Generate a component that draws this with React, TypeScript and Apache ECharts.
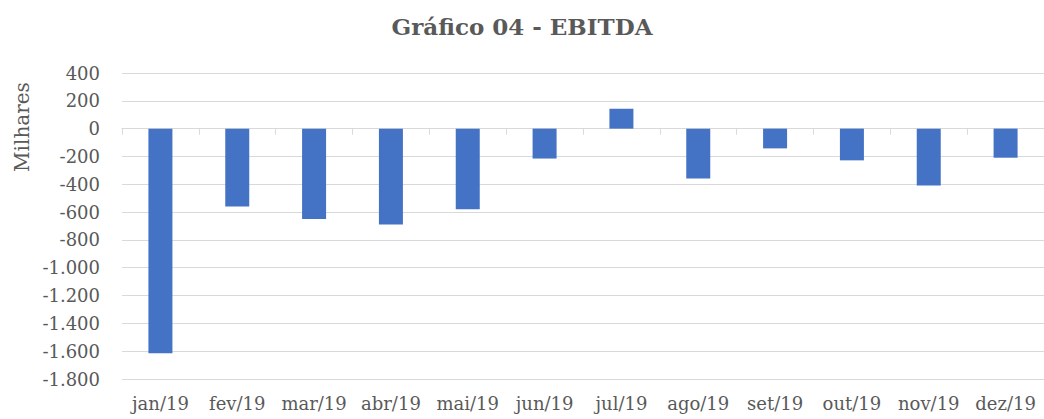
import React, { useEffect, useRef } from "react";
import * as echarts from "echarts";

const categories = ["jan/19", "fev/19", "mar/19", "abr/19", "mai/19", "jun/19", "jul/19", "ago/19", "set/19", "out/19", "nov/19", "dez/19"];
const ebitda = [-1615, -560, -650, -690, -580, -215, 143, -358, -142, -228, -408, -209];
const yMin = -1800;
const yMax = 400;
const yStep = 200;

const FONT = "DejaVu Serif";
const TEXT = "#595959";
const GRID = "#d9d9d9";

function fmt(v: number): string {
  const s = Math.abs(v).toString().replace(/\B(?=(\d{3})+(?!\d))/g, ".");
  return v < 0 ? "-" + s : s;
}

export default function App() {
  const ref = useRef<HTMLDivElement>(null);
  useEffect(() => {
    if (!ref.current) return;
    const chart = echarts.init(ref.current, null, { renderer: "svg" });
    chart.setOption({
      animation: false,
      backgroundColor: "#ffffff",
      title: {
        text: "Gráfico 04 - EBITDA",
        left: "center",
        top: 10,
        textStyle: { fontFamily: FONT, fontSize: 23, fontWeight: "bold", color: TEXT },
      },
      graphic: [
        {
          type: "text",
          x: 22,
          y: 127,
          rotation: Math.PI / 2,
          style: {
            text: "Milhares",
            fontFamily: FONT,
            fontSize: 20,
            fill: TEXT,
            align: "center",
            verticalAlign: "middle",
          },
        },
      ],
      grid: { left: 122, top: 73, width: 925, height: 306 },
      xAxis: [
        {
          type: "category",
          data: categories,
          position: "bottom",
          axisLine: { show: false, onZero: false },
          axisTick: { show: false },
          axisLabel: { fontFamily: FONT, fontSize: 18, color: TEXT, margin: 15, interval: 0 },
          splitLine: { show: false },
        },
        {
          type: "category",
          data: categories,
          position: "bottom",
          axisLine: { show: true, onZero: true, lineStyle: { color: GRID, width: 1 } },
          axisTick: { show: true, length: 6, lineStyle: { color: GRID } },
          axisLabel: { show: false },
          splitLine: { show: false },
        },
      ],
      yAxis: {
        type: "value",
        min: yMin,
        max: yMax,
        interval: yStep,
        axisLine: { show: false },
        axisTick: { show: false },
        splitLine: { lineStyle: { color: GRID, width: 1 } },
        axisLabel: { fontFamily: FONT, fontSize: 18, color: TEXT, margin: 22, formatter: (v: number) => fmt(v) },
      },
      series: [
        {
          type: "bar",
          xAxisIndex: 0,
          data: ebitda,
          barWidth: 24,
          itemStyle: { color: "#4472C4" },
        },
      ],
    });
    return () => chart.dispose();
  }, []);
  return (
    <div
      ref={ref}
      style={{ position: "absolute", left: 0, top: 0, width: 1044, height: 419 }}
    />
  );
}
